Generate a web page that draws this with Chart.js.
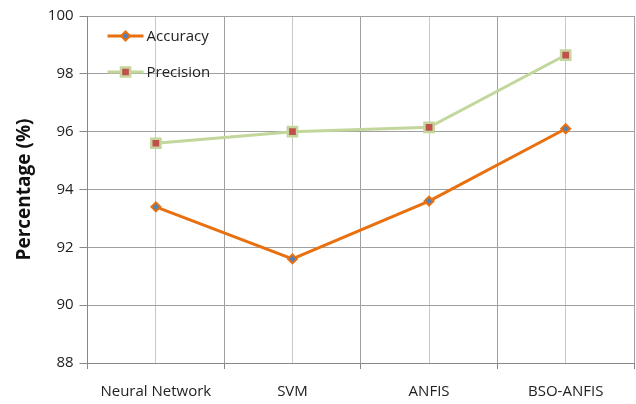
<!DOCTYPE html>
<html>
<head>
<meta charset="utf-8">
<script src="https://cdn.jsdelivr.net/npm/chart.js@4/dist/chart.umd.min.js"></script>
<style>
  html, body { margin: 0; padding: 0; background: #fff; }
  #wrap { width: 636px; height: 404px; }
</style>
</head>
<body>
<div id="wrap"><canvas id="chart" width="636" height="404"></canvas></div>
<script>
const categories = ["Neural Network", "SVM", "ANFIS", "BSO-ANFIS"];
const accuracy = [93.4, 91.6, 93.6, 96.1];
const precision = [95.6, 96.0, 96.15, 98.65];

const toPoints = arr => arr.map((v, i) => ({ x: i, y: v }));
const font = "'Open Sans', sans-serif";

// legend drawn inside the plot area, top left
const insideLegend = {
    id: 'insideLegend',
    afterDraw(chart) {
        const ctx = chart.ctx;
        const x0 = chart.chartArea.left + 20;
        const rows = [chart.chartArea.top + 20, chart.chartArea.top + 56];
        chart.data.datasets.forEach((ds, i) => {
            const y = rows[i];
            ctx.save();
            ctx.strokeStyle = ds.borderColor;
            ctx.lineWidth = ds.borderWidth;
            ctx.beginPath();
            ctx.moveTo(x0, y);
            ctx.lineTo(x0 + 36, y);
            ctx.stroke();
            const cx = x0 + 18;
            ctx.fillStyle = ds.pointBackgroundColor;
            ctx.strokeStyle = ds.pointBorderColor;
            ctx.lineWidth = ds.pointBorderWidth;
            ctx.beginPath();
            if (ds.pointStyle === 'rectRot') {
                const r = ds.pointRadius;
                ctx.moveTo(cx, y - r); ctx.lineTo(cx + r, y);
                ctx.lineTo(cx, y + r); ctx.lineTo(cx - r, y);
                ctx.closePath();
            } else {
                const h = ds.pointRadius * Math.SQRT1_2;
                ctx.rect(cx - h, y - h, 2 * h, 2 * h);
            }
            ctx.fill();
            ctx.stroke();
            ctx.fillStyle = '#222';
            ctx.font = "15px " + font;
            ctx.textBaseline = 'middle';
            ctx.fillText(ds.label, x0 + 39, y + 1);
            ctx.restore();
        });
    }
};

new Chart(document.getElementById('chart'), {
    type: 'line',
    data: {
        datasets: [
            {
                label: 'Accuracy',
                data: toPoints(accuracy),
                borderColor: '#E8700F',
                borderWidth: 3,
                pointStyle: 'rectRot',
                pointRadius: 4.5,
                pointBackgroundColor: '#4F81BD',
                pointBorderColor: '#E8700F',
                pointBorderWidth: 2,
                tension: 0
            },
            {
                label: 'Precision',
                data: toPoints(precision),
                borderColor: '#C3D69B',
                borderWidth: 3,
                pointStyle: 'rect',
                pointRadius: 6.5,
                pointBackgroundColor: '#C0504D',
                pointBorderColor: '#C3D69B',
                pointBorderWidth: 2.5,
                tension: 0
            }
        ]
    },
    options: {
        responsive: false,
        animation: false,
        layout: { autoPadding: false, padding: { top: 16, right: 2, bottom: 0, left: 13 } },
        scales: {
            x: {
                type: 'linear',
                min: -0.5,
                max: 3.5,
                ticks: {
                    stepSize: 0.5,
                    autoSkip: false,
                    maxRotation: 0,
                    padding: 14,
                    color: '#222',
                    font: { family: font, size: 15 },
                    callback: v => Number.isInteger(v) ? categories[v] : ''
                },
                afterBuildTicks: axis => {
                    axis.ticks = [];
                    for (let v = -0.5; v <= 3.5; v += 0.5) axis.ticks.push({ value: v });
                },
                afterFit: axis => {
                    axis.height = 41;
                    axis.paddingLeft = 0;
                    axis.paddingRight = 0;
                },
                grid: {
                    color: ctx => (ctx.tick && Number.isInteger(ctx.tick.value)) ? '#C8C8C8' : '#A0A0A0',
                    tickColor: ctx => (ctx.tick && Number.isInteger(ctx.tick.value)) ? 'rgba(0,0,0,0)' : '#888',
                    tickLength: 6
                },
                border: { color: '#888' }
            },
            y: {
                min: 88,
                max: 100,
                ticks: {
                    stepSize: 2,
                    padding: 6,
                    color: '#222',
                    font: { family: font, size: 15 }
                },
                afterFit: axis => {
                    axis.paddingTop = 0;
                    axis.paddingBottom = 0;
                },
                grid: { color: '#A0A0A0', tickColor: '#888', tickLength: 8 },
                border: { color: '#888' },
                title: {
                    display: true,
                    text: 'Percentage (%)',
                    color: '#111',
                    font: { family: font, size: 19, weight: 'bold' },
                    padding: { top: 0, bottom: 6 }
                }
            }
        },
        plugins: {
            legend: { display: false },
            tooltip: { enabled: false }
        }
    },
    plugins: [insideLegend]
});
</script>
</body>
</html>
